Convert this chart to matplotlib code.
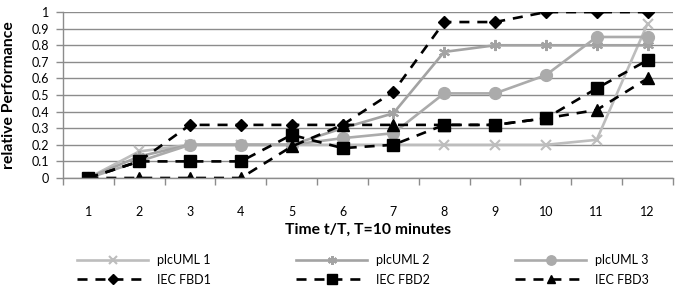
import matplotlib
matplotlib.use("Agg")
import matplotlib.pyplot as plt
from matplotlib.ticker import FixedLocator, NullFormatter

plt.rcParams['font.family'] = ['Lato', 'DejaVu Sans']

time_steps = [1, 2, 3, 4, 5, 6, 7, 8, 9, 10, 11, 12]
plcuml1 = [0, 0.16, 0.2, 0.2, 0.2, 0.2, 0.2, 0.2, 0.2, 0.2, 0.23, 0.93]
plcuml2 = [0, 0.13, 0.2, 0.2, 0.2, 0.3, 0.39, 0.76, 0.8, 0.8, 0.8, 0.8]
plcuml3 = [0, 0.1, 0.2, 0.2, 0.2, 0.24, 0.27, 0.51, 0.51, 0.62, 0.85, 0.85]
fbd1 = [0, 0.1, 0.32, 0.32, 0.32, 0.32, 0.52, 0.94, 0.94, 1.0, 1.0, 1.0]
fbd2 = [0, 0.1, 0.1, 0.1, 0.26, 0.18, 0.2, 0.32, 0.32, 0.36, 0.54, 0.71]
fbd3 = [0, 0, 0, 0, 0.19, 0.32, 0.32, 0.32, 0.32, 0.36, 0.41, 0.6]
y_ticks = [0, 0.1, 0.2, 0.3, 0.4, 0.5, 0.6, 0.7, 0.8, 0.9, 1]
y_labels = ['0', '0.1', '0.2', '0.3', '0.4', '0.5', '0.6', '0.7', '0.8', '0.9', '1']

fig = plt.figure(figsize=(6.77, 2.88), dpi=100)
ax = fig.add_axes([0.093, 0.382, 0.901, 0.576])

lw = 1.9
dash = (0, (3.8, 3.0))
h = []
h += ax.plot(time_steps, plcuml1, color='#BDBDBD', lw=lw, marker='x', ms=7, mew=1.5, label='plcUML 1')
h += ax.plot(time_steps, plcuml2, color='#A3A3A3', lw=lw, marker=(6, 2, 0), ms=8, mew=1.5, label='plcUML 2')
h += ax.plot(time_steps, plcuml3, color='#ABABAB', lw=lw, marker='o', ms=8.5, label='plcUML 3')
h += ax.plot(time_steps, fbd1, color='black', lw=lw, ls=dash, marker='D', ms=6.5, label='IEC FBD1')
h += ax.plot(time_steps, fbd2, color='black', lw=lw, ls=dash, marker='s', ms=8.5, label='IEC FBD2')
h += ax.plot(time_steps, fbd3, color='black', lw=lw, ls=dash, marker='^', ms=8, label='IEC FBD3')

ax.set_xlim(0.5, 12.5)
ax.set_ylim(0, 1)
ax.set_yticks(y_ticks)
ax.set_yticklabels(y_labels, fontsize=9)
ax.yaxis.grid(True, color='#8C8C8C', lw=1)
ax.set_axisbelow(True)
ax.set_xticks(time_steps)
ax.set_xticklabels([str(t) for t in time_steps], fontsize=9)
ax.xaxis.set_minor_locator(FixedLocator([i + 0.5 for i in range(0, 13)]))
ax.xaxis.set_minor_formatter(NullFormatter())
ax.tick_params(axis='x', which='major', length=0, pad=20)
ax.tick_params(axis='x', which='minor', length=5, color='#8C8C8C', width=1)
ax.tick_params(axis='y', length=5, color='#8C8C8C', width=1, pad=5)
for s in ['top', 'right']:
    ax.spines[s].set_visible(False)
for s in ['left', 'bottom']:
    ax.spines[s].set_color('#8C8C8C')
    ax.spines[s].set_linewidth(1)

ax.set_xlabel('Time t/T, T=10 minutes', fontsize=11.3, fontweight='bold')
ax.xaxis.set_label_coords(0.5, -0.27)
ax.set_ylabel('relative Performance', fontsize=11.3, fontweight='bold')
ax.yaxis.set_label_coords(-0.077, 0.5)

W, H = 677.0, 288.0
col_x = [77, 296, 515]
for c, x in enumerate(col_x):
    hs = [h[c], h[c + 3]]
    lg = fig.legend(hs, [l.get_label() for l in hs], loc='upper left',
                    bbox_to_anchor=(x / W, 1 - 254 / H), frameon=False,
                    fontsize=9, handlelength=5.7, handletextpad=0.7,
                    labelspacing=0.6, borderpad=0, borderaxespad=0,
                    markerscale=0.8)

fig.savefig('out.png', dpi=100)
